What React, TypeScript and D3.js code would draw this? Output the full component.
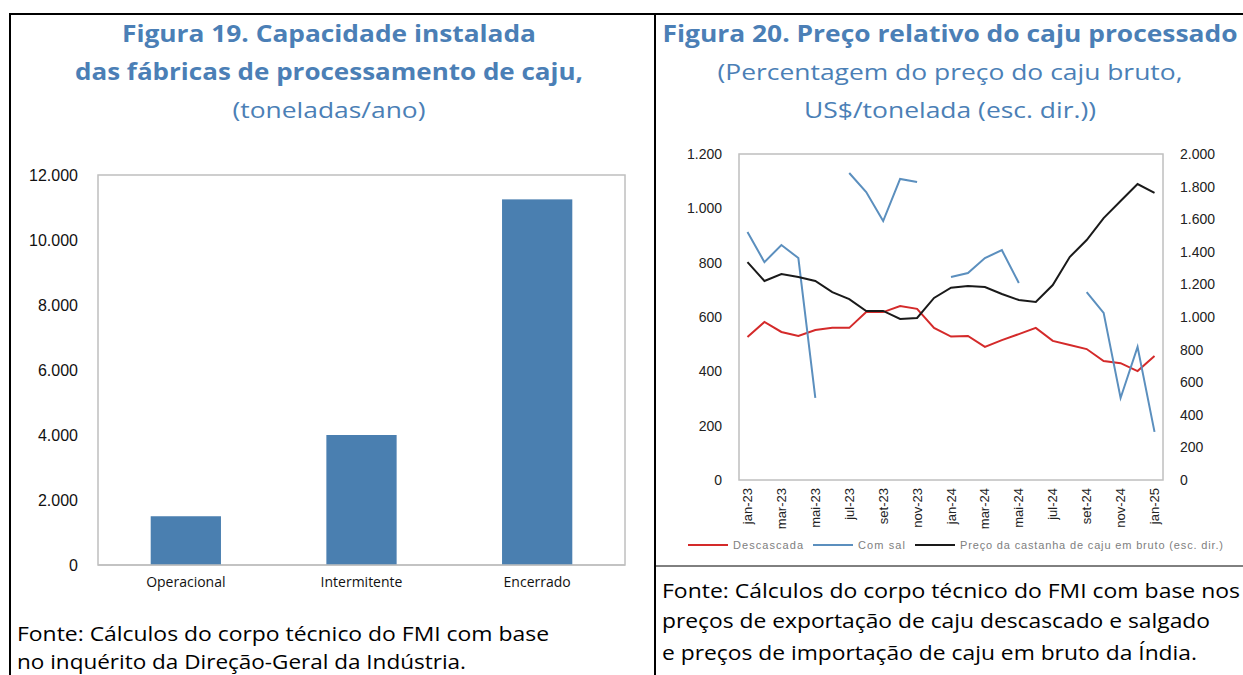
import React from "react";
import * as d3 from "d3";

// ---------- Figure 19 data ----------
const barCategories = ["Operacional", "Intermitente", "Encerrado"];
const barValues = [1500, 4000, 11250];
const barTicks = [0, 2000, 4000, 6000, 8000, 10000, 12000];

// ---------- Figure 20 data ----------
const months = [
  "jan-23", "fev-23", "mar-23", "abr-23", "mai-23", "jun-23", "jul-23", "ago-23", "set-23", "out-23", "nov-23", "dez-23",
  "jan-24", "fev-24", "mar-24", "abr-24", "mai-24", "jun-24", "jul-24", "ago-24", "set-24", "out-24", "nov-24", "dez-24",
  "jan-25",
];
const monthLabels = ["jan-23", "mar-23", "mai-23", "jul-23", "set-23", "nov-23", "jan-24", "mar-24", "mai-24", "jul-24", "set-24", "nov-24", "jan-25"];
const descascada = [526, 582, 545, 530, 552, 560, 560, 618, 618, 640, 630, 560, 528, 530, 490, 515, 537, 560, 512, 497, 482, 438, 430, 401, 456];
const comSal: (number | null)[] = [913, 802, 865, 817, 302, null, 1130, 1060, 953, 1108, 1097, null, 747, 762, 817, 846, 725, null, null, null, 692, 615, 302, 490, 177];
const precoBruto = [1337, 1221, 1264, 1245, 1221, 1153, 1110, 1037, 1037, 988, 994, 1117, 1180, 1190, 1184, 1141, 1104, 1092, 1196, 1368, 1472, 1607, 1712, 1816, 1761];
const leftTicks = [0, 200, 400, 600, 800, 1000, 1200];
const rightTicks = [0, 200, 400, 600, 800, 1000, 1200, 1400, 1600, 1800, 2000];

const fmt = d3.formatLocale({ decimal: ",", thousands: ".", grouping: [3], currency: ["", ""] }).format(",");

const TITLE_BLUE = "#4b7fb6";
const TITLE_FONT = "'Open Sans', 'Noto Sans', sans-serif";
const AXIS_FONT = "'Liberation Sans', Arial, sans-serif";

export default function App() {
  // Left chart scales
  const bx = d3.scaleBand<string>().domain(barCategories).range([98, 625]).paddingInner(0.6).paddingOuter(0.3);
  const by = d3.scaleLinear().domain([0, 12000]).range([565, 175]);

  // Right chart scales
  const lx = d3.scaleBand<string>().domain(months).range([739, 1163]);
  const cx = (m: string) => (lx(m) as number) + lx.bandwidth() / 2;
  const ly = d3.scaleLinear().domain([0, 1200]).range([480, 154]);
  const ry = d3.scaleLinear().domain([0, 2000]).range([480, 154]);

  const lineL = d3
    .line<number | null>()
    .defined((d) => d !== null)
    .x((_, i) => cx(months[i]))
    .y((d) => ly(d as number));
  const lineR = d3
    .line<number>()
    .x((_, i) => cx(months[i]))
    .y((d) => ry(d));

  const legendItems = [
    { label: "Descascada", color: "#d42a2a", x: 688, tl: 70 },
    { label: "Com sal", color: "#5b8fbe", x: 813, tl: 47 },
    { label: "Preço da castanha de caju em bruto (esc. dir.)", color: "#1a1a1a", x: 915, tl: 263 },
  ];

  return (
    <svg
      width={1243}
      height={675}
      style={{ position: "absolute", left: 0, top: 0, background: "#fff" }}
      xmlns="http://www.w3.org/2000/svg"
    >
      <rect x={0} y={0} width={1243} height={675} fill="#fff" />
      {/* frame lines */}
      <line x1={9} x2={1243} y1={14} y2={14} stroke="#000" strokeWidth={2} />
      <line x1={10} x2={10} y1={13} y2={675} stroke="#000" strokeWidth={2} />
      <line x1={655} x2={655} y1={13} y2={675} stroke="#000" strokeWidth={2} />

      {/* ---------- Figure 19 ---------- */}
      <g fontFamily={TITLE_FONT} fill={TITLE_BLUE} textAnchor="middle">
        <text x={329} y={42} fontSize={24} fontWeight="bold" textLength={414} lengthAdjust="spacingAndGlyphs">
          Figura 19. Capacidade instalada
        </text>
        <text x={329} y={80} fontSize={24} fontWeight="bold" textLength={508} lengthAdjust="spacingAndGlyphs">
          das fábricas de processamento de caju,
        </text>
        <text x={329} y={118} fontSize={22} textLength={193} lengthAdjust="spacingAndGlyphs">
          (toneladas/ano)
        </text>
      </g>
      <rect x={98} y={175} width={527} height={390} fill="none" stroke="#bfbfbf" strokeWidth={1.5} />
      {barCategories.map((c, i) => (
        <rect
          key={c}
          x={bx(c)}
          y={by(barValues[i])}
          width={bx.bandwidth()}
          height={by(0) - by(barValues[i])}
          fill="#4a7fb0"
        />
      ))}
      <line x1={98} x2={625} y1={565} y2={565} stroke="#bfbfbf" strokeWidth={1.5} />
      {barTicks.map((t) => (
        <text key={t} x={78} y={by(t)} dy="0.35em" textAnchor="end" fontFamily={AXIS_FONT} fontSize={16} fill="#111">
          {fmt(t)}
        </text>
      ))}
      {barCategories.map((c) => (
        <text
          key={c}
          x={(bx(c) as number) + bx.bandwidth() / 2}
          y={587}
          textAnchor="middle"
          fontFamily={TITLE_FONT}
          fontSize={14}
          fill="#111"
        >
          {c}
        </text>
      ))}
      <g fontFamily={TITLE_FONT} fontSize={20} fill="#000">
        <text x={17} y={641} textLength={532} lengthAdjust="spacingAndGlyphs">
          Fonte: Cálculos do corpo técnico do FMI com base
        </text>
        <text x={17} y={669} textLength={449} lengthAdjust="spacingAndGlyphs">
          no inquérito da Direção-Geral da Indústria.
        </text>
      </g>

      {/* ---------- Figure 20 ---------- */}
      <g fontFamily={TITLE_FONT} fill={TITLE_BLUE} textAnchor="middle">
        <text x={950} y={42} fontSize={24} fontWeight="bold" textLength={575} lengthAdjust="spacingAndGlyphs">
          Figura 20. Preço relativo do caju processado
        </text>
        <text x={950} y={80} fontSize={22} textLength={465} lengthAdjust="spacingAndGlyphs">
          (Percentagem do preço do caju bruto,
        </text>
        <text x={950} y={118} fontSize={22} textLength={292} lengthAdjust="spacingAndGlyphs">
          US$/tonelada (esc. dir.))
        </text>
      </g>
      <rect x={739} y={154} width={424} height={326} fill="none" stroke="#bfbfbf" strokeWidth={1.5} />
      {leftTicks.map((t) => (
        <text key={t} x={722} y={ly(t)} dy="0.35em" textAnchor="end" fontFamily={AXIS_FONT} fontSize={14} fill="#222">
          {fmt(t)}
        </text>
      ))}
      {rightTicks.map((t) => (
        <text key={t} x={1180} y={ry(t)} dy="0.35em" textAnchor="start" fontFamily={AXIS_FONT} fontSize={14} fill="#222">
          {fmt(t)}
        </text>
      ))}
      {monthLabels.map((m) => (
        <text
          key={m}
          transform={`translate(${cx(m)},488) rotate(-90)`}
          dy="0.35em"
          textAnchor="end"
          fontFamily={AXIS_FONT}
          fontSize={13}
          fill="#222"
        >
          {m}
        </text>
      ))}
      <path d={lineL(descascada) ?? ""} fill="none" stroke="#d42a2a" strokeWidth={2} />
      <path d={lineL(comSal) ?? ""} fill="none" stroke="#5b8fbe" strokeWidth={2} />
      <path d={lineR(precoBruto) ?? ""} fill="none" stroke="#1a1a1a" strokeWidth={2} />

      {legendItems.map((it) => (
        <g key={it.label}>
          <line x1={it.x} x2={it.x + 40} y1={545} y2={545} stroke={it.color} strokeWidth={2} />
          <text
            x={it.x + 45}
            y={545}
            dy="0.35em"
            fontFamily={AXIS_FONT}
            fontSize={11}
            fill="#808080"
            textLength={it.tl}
            lengthAdjust="spacing"
          >
            {it.label}
          </text>
        </g>
      ))}

      <line x1={655} x2={1243} y1={566} y2={566} stroke="#000" strokeWidth={1} />
      <g fontFamily={TITLE_FONT} fontSize={20} fill="#000">
        <text x={662} y={598} textLength={578} lengthAdjust="spacingAndGlyphs">
          Fonte: Cálculos do corpo técnico do FMI com base nos
        </text>
        <text x={662} y={628} textLength={548} lengthAdjust="spacingAndGlyphs">
          preços de exportação de caju descascado e salgado
        </text>
        <text x={662} y={660} textLength={535} lengthAdjust="spacingAndGlyphs">
          e preços de importação de caju em bruto da Índia.
        </text>
      </g>
    </svg>
  );
}
